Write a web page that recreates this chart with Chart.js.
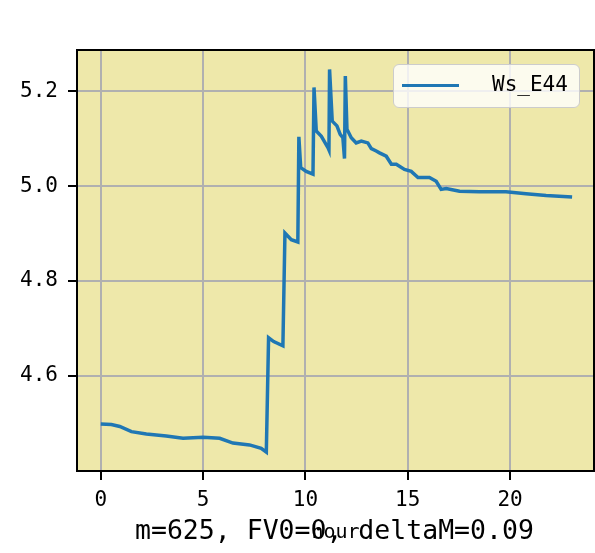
<!DOCTYPE html>
<html>
<head>
<meta charset="utf-8">
<script src="https://cdn.jsdelivr.net/npm/chart.js@4/dist/chart.umd.min.js"></script>
<style>
  body { margin: 0; background: #fff; }
  #wrap { position: relative; width: 595px; height: 553px; }
  #legendBox {
    position: absolute; left: 393px; top: 64px; width: 187px; height: 44px;
    background: rgba(255, 255, 255, 0.8); border: 1.5px solid #cccccc; border-radius: 6px;
    box-sizing: border-box;
  }
  #legendLine { position: absolute; left: 8px; top: 18.5px; width: 57px; height: 3.5px; background: #1f77b4; }
  #legendText {
    position: absolute; left: 98px; top: 9px; font: 21px "DejaVu Sans Mono"; line-height: 1; color: #000;
  }
  #bottomTitle {
    position: absolute; left: 135px; top: 517px; font: 26.5px "DejaVu Sans Mono"; line-height: 1;
    color: #000; white-space: pre;
  }
</style>
</head>
<body>
<div id="wrap">
  <canvas id="wsChart" width="595" height="553"></canvas>
  <div id="legendBox"><div id="legendLine"></div><div id="legendText">Ws_E44</div></div>
  <div id="bottomTitle">m=625, FV0=0, deltaM=0.09</div>
</div>
<script>
// hour values and Ws_E44
const hours = [0, 0.52, 0.93, 1.5, 2.23, 3.2, 4.02, 5.0, 5.81, 6.46, 7.27, 7.84, 8.09,
  8.2, 8.45, 8.9, 9.0, 9.31, 9.63, 9.68, 9.77, 10.04, 10.37, 10.42, 10.53, 10.78, 11.1, 11.15,
  11.18, 11.31, 11.54, 11.7, 11.83, 11.91, 11.95, 12.03, 12.24, 12.48, 12.73, 13.05, 13.22,
  13.46, 13.62, 13.95, 14.2, 14.44, 14.84, 15.17, 15.5, 16.06, 16.39, 16.63, 16.88, 17.53,
  18.5, 19.8, 20.78, 21.76, 23.03];
const wsE44 = [4.498, 4.497, 4.493, 4.482, 4.477, 4.473, 4.468, 4.470, 4.468, 4.458, 4.454, 4.447, 4.439,
  4.680, 4.672, 4.663, 4.901, 4.887, 4.882, 5.104, 5.039, 5.031, 5.025, 5.208, 5.116, 5.105, 5.081, 5.076,
  5.246, 5.137, 5.127, 5.109, 5.102, 5.058, 5.232, 5.120, 5.102, 5.091, 5.095, 5.091, 5.079,
  5.074, 5.070, 5.063, 5.046, 5.046, 5.035, 5.031, 5.018, 5.018, 5.010, 4.993, 4.995, 4.989,
  4.988, 4.988, 4.984, 4.980, 4.977];
const xTicks = [0, 5, 10, 15, 20];
const yTicks = [4.6, 4.8, 5.0, 5.2];

const tickFont = { family: "DejaVu Sans Mono", size: 21 };

const areaPlugin = {
  id: 'areaPlugin',
  beforeDraw(chart) {
    const { ctx, chartArea: a } = chart;
    ctx.save();
    ctx.fillStyle = 'palegoldenrod';
    ctx.fillRect(a.left, a.top, a.right - a.left, a.bottom - a.top);
    ctx.restore();
  },
  afterDraw(chart) {
    const { ctx, chartArea: a } = chart;
    ctx.save();
    ctx.strokeStyle = '#000';
    ctx.lineWidth = 2;
    ctx.strokeRect(a.left, a.top, a.right - a.left, a.bottom - a.top);
    ctx.restore();
  }
};

new Chart(document.getElementById('wsChart').getContext('2d'), {
  type: 'line',
  data: {
    datasets: [{
      label: 'Ws_E44',
      data: hours.map((h, i) => ({ x: h, y: wsE44[i] })),
      borderColor: '#1f77b4',
      borderWidth: 3.5,
      pointRadius: 0,
      tension: 0,
      fill: false
    }]
  },
  options: {
    responsive: false,
    animation: false,
    layout: { padding: { top: 50, right: 1, left: 0, bottom: 0 } },
    plugins: { legend: { display: false }, tooltip: { enabled: false } },
    scales: {
      x: {
        type: 'linear', min: -1.16, max: 24.1,
        afterBuildTicks: s => { s.ticks = xTicks.map(v => ({ value: v })); },
        afterFit: s => { s.height = 82; },
        grid: { color: '#b0b0b0', lineWidth: 2, tickColor: '#000', tickLength: 9, tickWidth: 2 },
        border: { color: '#000', width: 2 },
        ticks: { font: tickFont, color: '#000', padding: 8, maxRotation: 0, callback: v => String(v) },
        title: { display: true, text: 'hour', color: '#000', font: { family: "DejaVu Sans Mono", size: 20 }, padding: { top: 0, bottom: 8 } }
      },
      y: {
        type: 'linear', min: 4.399, max: 5.287,
        afterBuildTicks: s => { s.ticks = yTicks.map(v => ({ value: v })); },
        afterFit: s => { s.width = 77; },
        grid: { color: '#b0b0b0', lineWidth: 2, tickColor: '#000', tickLength: 9, tickWidth: 2 },
        border: { color: '#000', width: 2 },
        ticks: { font: tickFont, color: '#000', padding: 10, callback: v => v.toFixed(1) }
      }
    }
  },
  plugins: [areaPlugin]
});
</script>
</body>
</html>
